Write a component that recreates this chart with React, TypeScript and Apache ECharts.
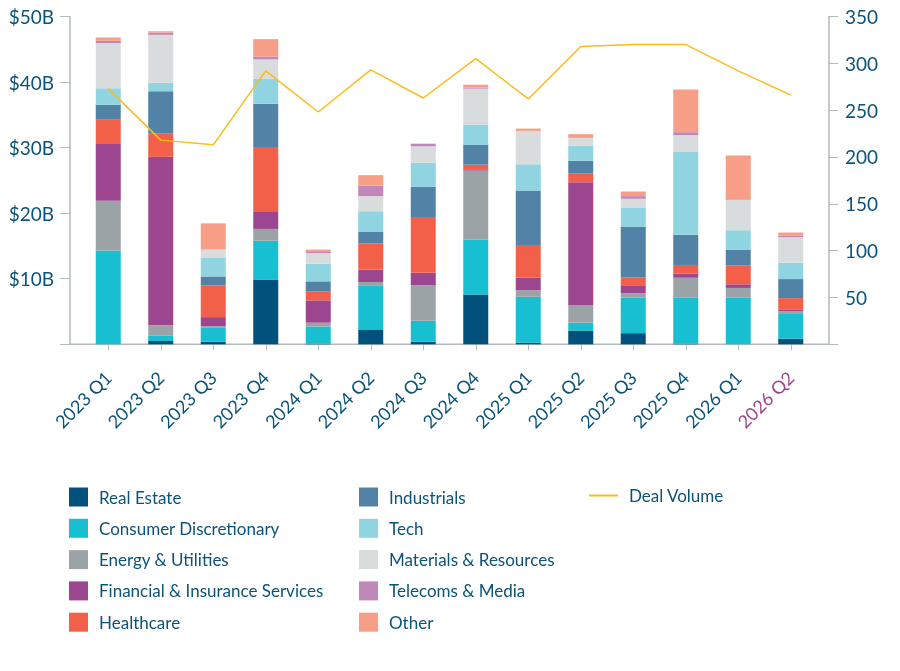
import { useEffect, useRef } from 'react'
import * as echarts from 'echarts'

const quarters = [
  '2023 Q1', '2023 Q2', '2023 Q3', '2023 Q4',
  '2024 Q1', '2024 Q2', '2024 Q3', '2024 Q4',
  '2025 Q1', '2025 Q2', '2025 Q3', '2025 Q4',
  '2026 Q1', '2026 Q2',
]

// deal value by sector, $B (bottom of the stack first)
const realEstate = [0, 0.5, 0.4, 9.9, 0.1, 2.2, 0.4, 7.6, 0.25, 2.1, 1.7, 0.1, 0, 0.85]
const consumerDiscretionary = [14.3, 0.8, 2.1, 5.9, 2.6, 6.8, 3.2, 8.4, 7.0, 1.2, 5.4, 7.0, 7.1, 3.9]
const energyUtilities = [7.6, 1.6, 0.25, 1.8, 0.6, 0.5, 5.4, 10.5, 1.0, 2.6, 0.7, 3.05, 1.5, 0.3]
const financialInsurance = [8.65, 25.7, 1.4, 2.7, 3.4, 1.9, 1.9, 0.2, 1.9, 18.8, 1.1, 0.65, 0.55, 0.2]
const healthcare = [3.8, 3.6, 4.8, 9.8, 1.4, 4.0, 8.5, 0.7, 5.0, 1.4, 1.3, 1.3, 2.85, 1.8]
const industrials = [2.2, 6.4, 1.4, 6.6, 1.5, 1.8, 4.6, 3.0, 8.3, 1.9, 7.7, 4.6, 2.4, 2.9]
const tech = [2.5, 1.3, 2.9, 3.8, 2.7, 3.1, 3.7, 3.1, 4.0, 2.3, 2.9, 12.7, 3.0, 2.5]
const materialsResources = [6.9, 7.3, 1.2, 2.95, 1.6, 2.3, 2.5, 5.5, 5.1, 1.2, 1.4, 2.5, 4.6, 3.9]
const telecomsMedia = [0.35, 0.35, 0, 0.45, 0.3, 1.6, 0.4, 0.15, 0, 0.1, 0.4, 0.45, 0.1, 0.2]
const other = [0.5, 0.2, 4.0, 2.65, 0.25, 1.6, 0, 0.45, 0.35, 0.45, 0.7, 6.5, 6.7, 0.5]

// number of deals
const dealVolume = [273, 218, 213, 292, 248, 293, 263, 305, 262, 318, 320, 320, 292, 266]

const sectors = [
  { name: 'Real Estate', data: realEstate, color: '#00517b' },
  { name: 'Consumer Discretionary', data: consumerDiscretionary, color: '#17bfd1' },
  { name: 'Energy & Utilities', data: energyUtilities, color: '#9ca3a6' },
  { name: 'Financial & Insurance Services', data: financialInsurance, color: '#9c4690' },
  { name: 'Healthcare', data: healthcare, color: '#f2604a' },
  { name: 'Industrials', data: industrials, color: '#5283a6' },
  { name: 'Tech', data: tech, color: '#8fd4e0' },
  { name: 'Materials & Resources', data: materialsResources, color: '#d9dcdd' },
  { name: 'Telecoms & Media', data: telecomsMedia, color: '#bf88b8' },
  { name: 'Other', data: other, color: '#f79f86' },
]

const TEXT = '#0b5379'
const AXIS = '#b3babd'
const LINE = '#fbbc1a'
const FONT = 'Lato, "Open Sans", sans-serif'

export default function App() {
  const chartRef = useRef<HTMLDivElement>(null)

  useEffect(() => {
    if (!chartRef.current) return
    const chart = echarts.init(chartRef.current, undefined, { renderer: 'svg' })

    const legendBase = {
      orient: 'vertical' as const,
      top: 487.5,
      padding: 0,
      itemWidth: 19,
      itemHeight: 19,
      itemGap: 12.3,
      icon: 'rect',
      selectedMode: false,
      textStyle: {
        color: TEXT,
        fontSize: 17,
        fontFamily: FONT,
        padding: [0, 0, 0, 6],
      },
    }

    chart.setOption({
      animation: false,
      textStyle: { fontFamily: FONT },
      grid: { left: 82, right: 83, top: 16.5, height: 327.8 },
      legend: [
        { ...legendBase, left: 69, data: sectors.slice(0, 5).map((s) => s.name) },
        { ...legendBase, left: 359, data: sectors.slice(5).map((s) => s.name) },
        {
          ...legendBase,
          left: 589,
          top: 487,
          itemWidth: 29,
          itemHeight: 2,
          itemStyle: { color: LINE },
          data: ['Deal Volume'],
        },
      ],
      graphic: [
        {
          type: 'line',
          shape: { x1: 70, y1: 344.3, x2: 829, y2: 344.3 },
          style: { stroke: AXIS, lineWidth: 1.5 },
          silent: true,
        },
      ],
      xAxis: {
        type: 'category',
        data: quarters,
        axisLine: { show: false },
        axisTick: { show: true, alignWithLabel: true, length: 6, lineStyle: { color: AXIS } },
        axisLabel: {
          rotate: 45,
          interval: 0,
          margin: 30,
          fontSize: 18,
          fontFamily: FONT,
          color: (_v: string, i: number) => (i === quarters.length - 1 ? '#9c4690' : TEXT),
        },
      },
      yAxis: [
        {
          type: 'value',
          min: 0,
          max: 50,
          interval: 10,
          offset: 12,
          splitLine: { show: false },
          axisLine: { show: true, lineStyle: { color: AXIS, width: 1.5 } },
          axisTick: { show: true, length: 10, lineStyle: { color: AXIS } },
          axisLabel: {
            margin: 16,
            fontSize: 19,
            color: TEXT,
            formatter: (v: number) => (v === 0 ? '' : `$${v}B`),
          },
        },
        {
          type: 'value',
          min: 0,
          max: 350,
          interval: 50,
          offset: 12,
          position: 'right',
          splitLine: { show: false },
          axisLine: { show: true, lineStyle: { color: AXIS, width: 1.5 } },
          axisTick: { show: true, length: 9, lineStyle: { color: AXIS } },
          axisLabel: {
            margin: 16,
            fontSize: 19,
            color: TEXT,
            formatter: (v: number) => (v === 0 ? '' : `${v}`),
          },
        },
      ],
      series: [
        ...sectors.map((s) => ({
          name: s.name,
          type: 'bar',
          stack: 'value',
          barWidth: 25,
          data: s.data,
          itemStyle: { color: s.color },
        })),
        {
          name: 'Deal Volume',
          type: 'line',
          yAxisIndex: 1,
          data: dealVolume,
          symbol: 'none',
          z: 5,
          itemStyle: { color: LINE },
          lineStyle: { color: LINE, width: 1.5 },
        },
      ],
    })

    return () => chart.dispose()
  }, [])

  return (
    <div
      ref={chartRef}
      style={{ position: 'fixed', left: 0, top: 0, width: 900, height: 671 }}
    />
  )
}
